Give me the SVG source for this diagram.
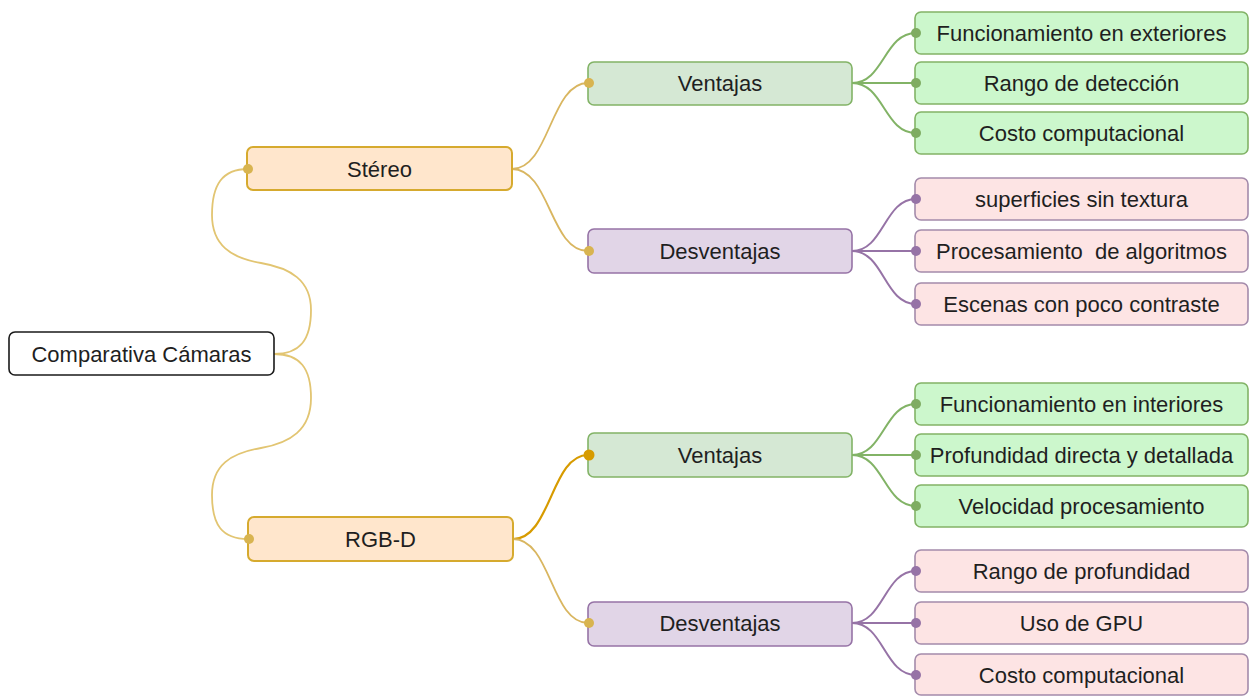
<svg xmlns="http://www.w3.org/2000/svg" width="1251" height="696" viewBox="0 0 1251 696">
  <style>
    text { font-family: "Liberation Sans", Arial, sans-serif; font-size: 22px; fill: #1f1f1f; text-anchor: middle; }
    .box { stroke-width: 1.6; }
    .root { fill: #ffffff; stroke: #1a1a1a; }
    .cat { fill: #ffe6cc; stroke: #d6aa2e; stroke-width: 2; }
    .pro { fill: #d5e8d4; stroke: #82b366; }
    .con { fill: #e1d5e7; stroke: #9673a6; }
    .proLeaf { fill: #ccf7cc; stroke: #82b366; }
    .conLeaf { fill: #fde4e4; stroke: #a48bab; }
    .edge { fill: none; stroke-width: 1.8; }
    .eRoot { stroke: #e2c572; }
    .eCat { stroke: #d9b660; }
    .eCatHi { stroke: #d79b00; stroke-width: 2.2; }
    .ePro { stroke: #82b366; stroke-width: 2; }
    .eCon { stroke: #9673a6; stroke-width: 2; }
    .dRoot { fill: #d8b450; }
    .dHi { fill: #d79b00; }
    .dPro { fill: #7fac62; }
    .dCon { fill: #9673a6; }
  </style>

  <!-- connectors -->
  <g id="connectors">
    <path class="edge eRoot" d="M274,354 C300,354 311,340 311,310 C311,280 290,268 261,263 C231,258 212,245 212,215 C212,185 222,169 248,169"/>
    <path class="edge eRoot" d="M274,354 C300,354 311,368 311,398 C311,430 290,443 261,448 C231,453 212,465 212,495 C212,525 222,539 248,539"/>

    <path class="edge eCat" d="M512,169 C550,169 550,83 588,83"/>
    <path class="edge eCat" d="M512,169 C550,169 550,251 588,251"/>
    <path class="edge eCatHi" d="M513,539 C551,539 551,455 588,455"/>
    <path class="edge eCat" d="M513,539 C551,539 551,623 588,623"/>

    <path class="edge ePro" d="M852,83 C884,83 884,33 916,33"/>
    <path class="edge ePro" d="M852,83 L916,83"/>
    <path class="edge ePro" d="M852,83 C884,83 884,133 916,133"/>

    <path class="edge eCon" d="M852,251 C884,251 884,199 916,199"/>
    <path class="edge eCon" d="M852,251 L916,251"/>
    <path class="edge eCon" d="M852,251 C884,251 884,304 916,304"/>

    <path class="edge ePro" d="M852,455 C884,455 884,404 916,404"/>
    <path class="edge ePro" d="M852,455 L916,455"/>
    <path class="edge ePro" d="M852,455 C884,455 884,506 916,506"/>

    <path class="edge eCon" d="M852,623 C884,623 884,571 916,571"/>
    <path class="edge eCon" d="M852,623 L916,623"/>
    <path class="edge eCon" d="M852,623 C884,623 884,675 916,675"/>
  </g>

  <!-- central node -->
  <g id="root">
    <rect class="box root" x="9" y="332" width="265" height="43" rx="6"/>
    <text x="141.5" y="362">Comparativa Cámaras</text>
  </g>

  <!-- camera types -->
  <g id="stereo">
    <rect class="box cat" x="247" y="147" width="265" height="43" rx="6"/>
    <circle class="dRoot" cx="248" cy="169" r="5"/>
    <text x="379.5" y="177">Stéreo</text>
  </g>
  <g id="rgbd">
    <rect class="box cat" x="248" y="517" width="265" height="44" rx="6"/>
    <circle class="dRoot" cx="249" cy="539" r="5"/>
    <text x="380.5" y="547">RGB-D</text>
  </g>

  <!-- Stéreo branches -->
  <g id="stereo-ventajas">
    <rect class="box pro" x="588" y="62" width="264" height="43" rx="6"/>
    <circle class="dRoot" cx="589" cy="83" r="5"/>
    <text x="720" y="91">Ventajas</text>
  </g>
  <g id="stereo-desventajas">
    <rect class="box con" x="588" y="229" width="264" height="44" rx="6"/>
    <circle class="dRoot" cx="589" cy="251" r="5"/>
    <text x="720" y="259">Desventajas</text>
  </g>

  <!-- RGB-D branches -->
  <g id="rgbd-ventajas">
    <rect class="box pro" x="588" y="433" width="264" height="44" rx="6"/>
    <circle class="dHi" cx="589" cy="455" r="5.5"/>
    <text x="720" y="463">Ventajas</text>
  </g>
  <g id="rgbd-desventajas">
    <rect class="box con" x="588" y="602" width="264" height="44" rx="6"/>
    <circle class="dRoot" cx="589" cy="623" r="5"/>
    <text x="720" y="631">Desventajas</text>
  </g>

  <!-- Stéreo: ventajas -->
  <g id="s-v1">
    <rect class="box proLeaf" x="915" y="12" width="333" height="42" rx="6"/>
    <circle class="dPro" cx="916" cy="33" r="5"/>
    <text x="1081.5" y="41">Funcionamiento en exteriores</text>
  </g>
  <g id="s-v2">
    <rect class="box proLeaf" x="915" y="62" width="333" height="42" rx="6"/>
    <circle class="dPro" cx="916" cy="83" r="5"/>
    <text x="1081.5" y="91">Rango de detección</text>
  </g>
  <g id="s-v3">
    <rect class="box proLeaf" x="915" y="112" width="333" height="42" rx="6"/>
    <circle class="dPro" cx="916" cy="133" r="5"/>
    <text x="1081.5" y="141">Costo computacional</text>
  </g>

  <!-- Stéreo: desventajas -->
  <g id="s-d1">
    <rect class="box conLeaf" x="915" y="178" width="333" height="42" rx="6"/>
    <circle class="dCon" cx="916" cy="199" r="5"/>
    <text x="1081.5" y="207">superficies sin textura</text>
  </g>
  <g id="s-d2">
    <rect class="box conLeaf" x="915" y="230" width="333" height="42" rx="6"/>
    <circle class="dCon" cx="916" cy="251" r="5"/>
    <text x="1081.5" y="259" xml:space="preserve">Procesamiento  de algoritmos</text>
  </g>
  <g id="s-d3">
    <rect class="box conLeaf" x="915" y="283" width="333" height="42" rx="6"/>
    <circle class="dCon" cx="916" cy="304" r="5"/>
    <text x="1081.5" y="312">Escenas con poco contraste</text>
  </g>

  <!-- RGB-D: ventajas -->
  <g id="r-v1">
    <rect class="box proLeaf" x="915" y="383" width="333" height="42" rx="6"/>
    <circle class="dPro" cx="916" cy="404" r="5"/>
    <text x="1081.5" y="412">Funcionamiento en interiores</text>
  </g>
  <g id="r-v2">
    <rect class="box proLeaf" x="915" y="434" width="333" height="42" rx="6"/>
    <circle class="dPro" cx="916" cy="455" r="5"/>
    <text x="1081.5" y="463">Profundidad directa y detallada</text>
  </g>
  <g id="r-v3">
    <rect class="box proLeaf" x="915" y="485" width="333" height="42" rx="6"/>
    <circle class="dPro" cx="916" cy="506" r="5"/>
    <text x="1081.5" y="514">Velocidad procesamiento</text>
  </g>

  <!-- RGB-D: desventajas -->
  <g id="r-d1">
    <rect class="box conLeaf" x="915" y="550" width="333" height="42" rx="6"/>
    <circle class="dCon" cx="916" cy="571" r="5"/>
    <text x="1081.5" y="579">Rango de profundidad</text>
  </g>
  <g id="r-d2">
    <rect class="box conLeaf" x="915" y="602" width="333" height="42" rx="6"/>
    <circle class="dCon" cx="916" cy="623" r="5"/>
    <text x="1081.5" y="631">Uso de GPU</text>
  </g>
  <g id="r-d3">
    <rect class="box conLeaf" x="915" y="654" width="333" height="41" rx="6"/>
    <circle class="dCon" cx="916" cy="675" r="5"/>
    <text x="1081.5" y="683">Costo computacional</text>
  </g>
</svg>
